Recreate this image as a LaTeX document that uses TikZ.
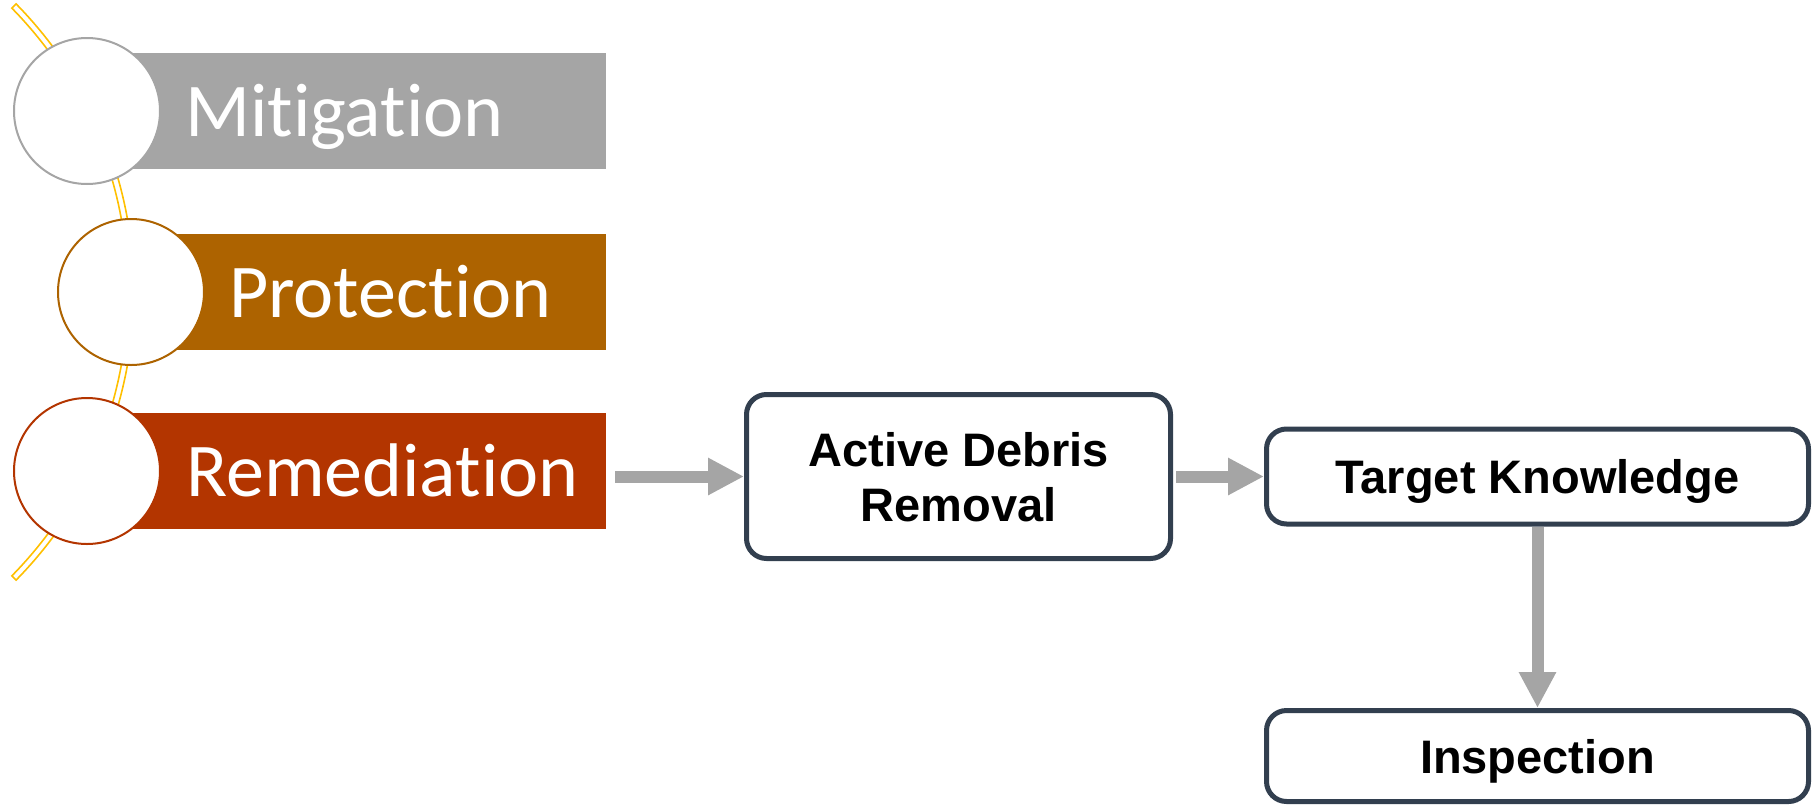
\documentclass[tikz,border=0pt]{standalone}
\usepackage{fontspec}
\newfontfamily\carlito{Carlito}[Ligatures=NoCommon]
\newfontfamily\arialfont{Liberation Sans}
\usetikzlibrary{arrows.meta}
\definecolor{mitgray}{HTML}{A5A5A5}
\definecolor{protorange}{HTML}{AD6300}
\definecolor{remred}{HTML}{B33500}
\definecolor{arcgold}{HTML}{FFC000}
\definecolor{boxline}{HTML}{323F4F}
\definecolor{arrowgray}{HTML}{A5A5A5}
\begin{document}
\begin{tikzpicture}[x=1pt,y=-1pt,
  bar/.style={rectangle, draw=none, minimum height=116pt, inner sep=0pt, anchor=west},
  ring/.style={circle, fill=white, line width=2pt, minimum size=146pt, inner sep=0pt},
  bartext/.style={anchor=base west, inner sep=0pt, text=white, font=\carlito\fontsize{76}{91}\selectfont},
  flowbox/.style={rectangle, rounded corners=20pt, draw=boxline, line width=5pt, fill=white, align=center, inner sep=0pt, font=\arialfont\bfseries\fontsize{47}{55}\selectfont, text depth=0pt},
  flowarrow/.style={draw=arrowgray, line width=12pt, -{Triangle[length=36pt,width=35pt]}}
]
\useasboundingbox (0,0) rectangle (1820,809);
% arc band
\coordinate (arccenter) at (-277,292);
\draw[arcgold, line width=1.6pt, fill=white, line join=miter]
  ([shift={(-44.5:411)}]arccenter) arc[start angle=-44.5, end angle=44.5, radius=411]
  -- ([shift={(44.5:405)}]arccenter) arc[start angle=44.5, end angle=-44.5, radius=405] -- cycle;
% bars
\node[bar, fill=mitgray, minimum width=519pt] (mitbar) at (87,111) {};
\node[bar, fill=protorange, minimum width=475pt] (protbar) at (131,292) {};
\node[bar, fill=remred, minimum width=519pt] (rembar) at (87,471) {};
% rings
\node[ring, draw=mitgray] (mitring) at (87,111) {};
\node[ring, draw=protorange] (protring) at (131,292) {};
\node[ring, draw=remred] (remring) at (87,471) {};
% labels
\node[bartext] (mittext) at (185,136) {Mitigation};
\node[bartext] (prottext) at (229,317) {Protection};
\node[bartext] (remtext) at (186,496) {Remediation};
% flow boxes
\node[flowbox, minimum width=424pt, minimum height=164pt] (adr) at (958.5,476.5) {Active Debris\\Removal};
\node[flowbox, minimum width=542pt, minimum height=95pt] (tk) at (1537.5,476.5) {Target Knowledge};
\node[flowbox, minimum width=542pt, minimum height=91pt] (insp) at (1537.5,756) {Inspection};
% arrows
\draw[flowarrow] ([xshift=9pt]rembar.east |- adr.west) -- (adr.west);
\draw[flowarrow] ([xshift=3pt]adr.east) -- (tk.west);
\draw[flowarrow] (tk.south) -- (insp.north);
\end{tikzpicture}
\end{document}
